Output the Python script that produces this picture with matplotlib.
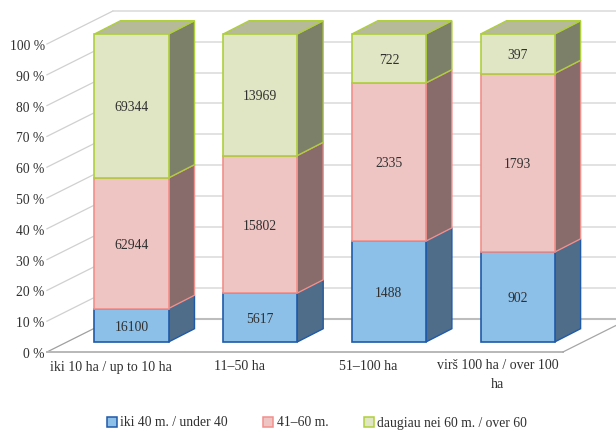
import matplotlib
matplotlib.use("Agg")
import matplotlib.pyplot as plt
import numpy as np
from matplotlib.patches import Patch, Polygon

plt.rcParams['font.family'] = ['Liberation Serif', 'DejaVu Serif']

categories = ["iki 10 ha / up to 10 ha", "11–50 ha", "51–100 ha", "virš 100 ha / over 100\nha"]
under_40 = [16100, 5617, 1488, 902]
from_41_60 = [62944, 15802, 2335, 1793]
over_60 = [69344, 13969, 722, 397]
series_names = ["iki 40 m. / under 40", "41–60 m.", "daugiau nei 60 m. / over 60"]
y_ticks = [0, 10, 20, 30, 40, 50, 60, 70, 80, 90, 100]

face_colors = ["#8DC0E8", "#EEC5C3", "#E0E5C4"]
edge_colors = ["#1F5AA8", "#F2908B", "#AFCF3D"]
side_colors = ["#4F6D89", "#886B6B", "#7D8068"]
top_color = "#B7BA99"
text_color = "#303030"

# one bar step is 128.7 px, one percent is 3.08 px
bar_w = 0.575
depth_x = 26 / 128.7
depth_y = 13.3 / 3.08
wall_left, wall_right = -0.657, 3.352
wall_dx = 66 / 128.7
floor_drop = 10 / 3.08
wall_rise = 23 / 3.08

fig = plt.figure(figsize=(6.16, 4.3), dpi=100)
ax = fig.add_axes([0, 0, 1, 1])
ax.set_xlim(-131.5 / 128.7, (616 - 131.5) / 128.7)
ax.set_ylim(-88 / 3.08, 342 / 3.08)
ax.axis("off")

# walls and floor
for p in y_ticks:
    c = "#A0A0A0" if p == 0 else "#D0D0D0"
    ax.plot([wall_left, wall_left + wall_dx], [p - floor_drop, p + wall_rise], color=c, lw=0.9, zorder=1)
    ax.plot([wall_left + wall_dx, 4.2], [p + wall_rise, p + wall_rise],
            color="#BDBDBD" if p == 0 else "#DADADA", lw=1.5 if p == 0 else 1.1, zorder=1)
    ax.text(-0.675, p - floor_drop - 0.8, "%d %%" % p, ha="right", va="center", fontsize=9.8, color=text_color)
ax.plot([wall_left, wall_right], [-floor_drop, -floor_drop], color="#B8B8B8", lw=1.4, zorder=1)
ax.plot([wall_right, wall_right + wall_dx], [-floor_drop, wall_rise], color="#A6A6A6", lw=0.9, zorder=1)

values = np.array([under_40, from_41_60, over_60], dtype=float)
shares = values / values.sum(axis=0) * 100
x = np.arange(len(categories))

bottom = np.zeros(len(categories))
for s in range(3):
    ax.bar(x, shares[s], bar_w, bottom=bottom, color=face_colors[s], edgecolor=edge_colors[s], lw=1.2, zorder=3)
    for i in x:
        right = i + bar_w / 2
        y0, y1 = bottom[i], bottom[i] + shares[s][i]
        ax.add_patch(Polygon([(right, y0), (right + depth_x, y0 + depth_y),
                              (right + depth_x, y1 + depth_y), (right, y1)],
                             facecolor=side_colors[s], edgecolor=edge_colors[s], lw=1.0, zorder=2.5))
        ax.text(i, (y0 + y1) / 2 - 0.6, "%d" % values[s][i], ha="center", va="center",
                fontsize=9.8, color=text_color, zorder=5)
    bottom = bottom + shares[s]

# bar lids
for i in x:
    left, right = i - bar_w / 2, i + bar_w / 2
    ax.add_patch(Polygon([(left, 100), (right, 100), (right + depth_x, 100 + depth_y), (left + depth_x, 100 + depth_y)],
                         facecolor=top_color, edgecolor=edge_colors[2], lw=1.0, zorder=2.5))

for i, name in enumerate(categories):
    if "\n" in name:
        ax.text(i - 20 / 128.7, -(359 - 342) / 3.08, name, ha="center", va="top",
                fontsize=10, color=text_color, linespacing=1.55)
    else:
        ax.text(i - 20.5 / 128.7, -(367 - 342) / 3.08, name, ha="center", va="center",
                fontsize=10, color=text_color)

handles = [Patch(facecolor=face_colors[s], edgecolor=edge_colors[s], lw=1.1) for s in range(3)]
fig.legend(handles, series_names, ncol=3, loc="center", bbox_to_anchor=(317 / 616, 1 - 423 / 430),
           frameon=False, fontsize=9.8, labelcolor=text_color, handlelength=0.75, handleheight=0.75,
           handletextpad=0.25, columnspacing=2.6, borderpad=0)

fig.savefig("out.png", dpi=100)
